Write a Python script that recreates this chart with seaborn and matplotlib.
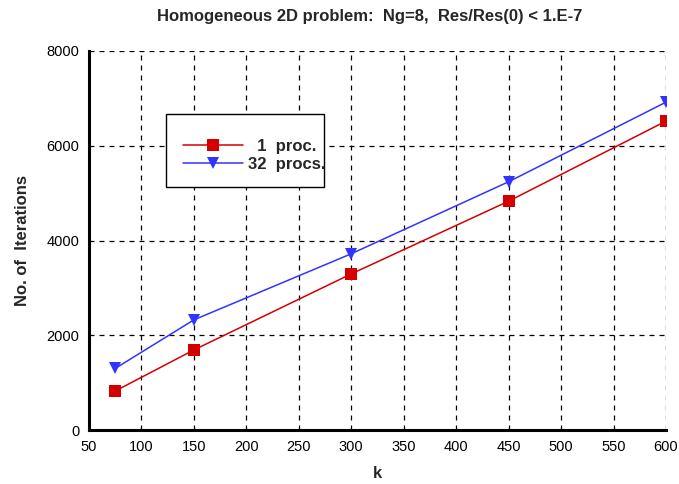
import matplotlib
matplotlib.use("Agg")
import matplotlib.pyplot as plt
import seaborn as sns
import pandas as pd
from matplotlib.ticker import MultipleLocator
from matplotlib.patches import Rectangle

k_values = [75, 150, 300, 450, 600]
iters_1proc = [823, 1690, 3295, 4830, 6520]
iters_32procs = [1300, 2325, 3720, 5240, 6920]
series_names = ["  1  proc.", "32  procs."]

df = pd.DataFrame({
    "k": k_values * 2,
    "iters": iters_1proc + iters_32procs,
    "series": [series_names[0]] * len(k_values) + [series_names[1]] * len(k_values),
})

sns.set_style("white")
plt.rcParams['font.family'] = ['Liberation Sans', 'DejaVu Sans']

W, H = 679, 484
fig = plt.figure(figsize=(W / 100, H / 100), dpi=100)
ax = fig.add_axes([89/W, 1 - 430/H, 577/W, 379/H])

sns.lineplot(data=df, x="k", y="iters", hue="series", style="series",
             palette={series_names[0]: "#d40000", series_names[1]: "#3333ff"},
             markers={series_names[0]: "s", series_names[1]: "v"},
             dashes=False, markersize=8, linewidth=1.1, ax=ax,
             markeredgewidth=0)

ax.set_xlim(50, 600)
ax.set_ylim(0, 8000)
ax.xaxis.set_major_locator(MultipleLocator(50))
ax.xaxis.set_minor_locator(MultipleLocator(10))
ax.yaxis.set_major_locator(MultipleLocator(2000))
ax.yaxis.set_minor_locator(MultipleLocator(500))
ax.grid(True, which="major", color="black", linestyle=(0, (4, 4)), linewidth=0.9)
ax.tick_params(which="major", direction="in", length=8, width=1.0, labelsize=10.5, colors="black")
ax.tick_params(which="minor", direction="in", length=4, width=0.8, colors="black")
ax.tick_params(axis="x", pad=7)
ax.tick_params(axis="y", pad=7)
for s in ["top", "right"]:
    ax.spines[s].set_visible(False)
for s in ["left", "bottom"]:
    ax.spines[s].set_linewidth(2.2)
    ax.spines[s].set_color("black")

ax.set_xlabel("k", fontsize=12, fontweight="bold", labelpad=9)
ax.set_ylabel("No. of  Iterations", fontsize=12, fontweight="bold", labelpad=12)
fig.text(370/W, 1 - 17/H, "Homogeneous 2D problem:  Ng=8,  Res/Res(0) < 1.E-7",
         ha="center", va="center", fontsize=12, fontweight="bold")

# legend frame drawn separately to match the reference's box
box = Rectangle((166/W, 1 - 187/H), (324-166)/W, (187-114)/H,
                transform=fig.transFigure, facecolor="white",
                edgecolor="black", linewidth=1.0, zorder=4.5, clip_on=False)
ax.add_patch(box)
leg = ax.legend(loc="center left", bbox_to_anchor=(183/W, 1 - 155.5/H),
                bbox_transform=fig.transFigure,
                frameon=False, prop={"weight": "bold", "size": 12},
                handlelength=3.6, borderpad=0, borderaxespad=0,
                labelspacing=0.15, handletextpad=0.3)
leg.set_zorder(6)
leg.set_title(None)

fig.savefig("out.png", dpi=100)
